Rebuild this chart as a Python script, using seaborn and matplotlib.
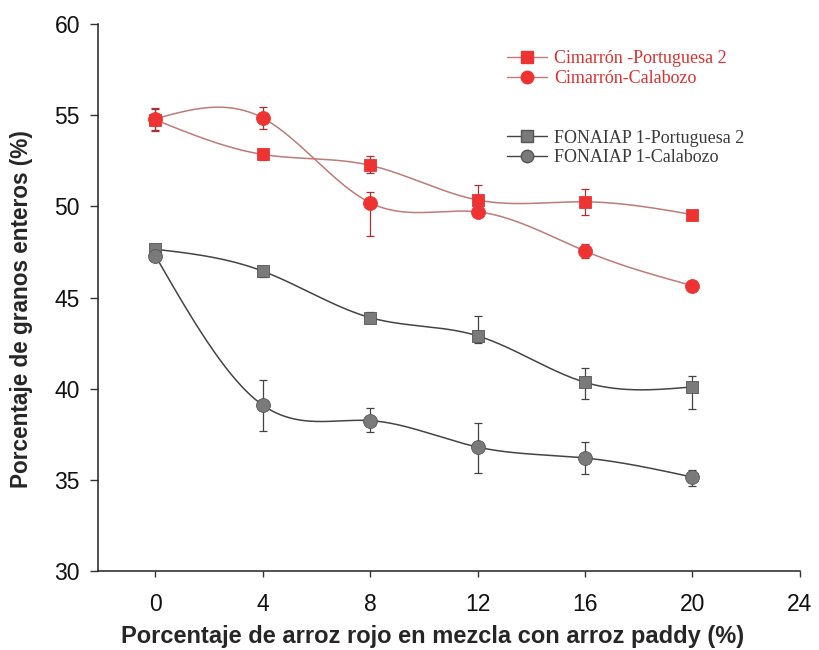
import numpy as np
import pandas as pd
import matplotlib
matplotlib.use("Agg")
import matplotlib.pyplot as plt
from matplotlib.lines import Line2D
import seaborn as sns

# ---- data ----
x_vals = [0, 4, 8, 12, 16, 20]
series_names = ["Cimarrón -Portuguesa 2", "Cimarrón-Calabozo",
                "FONAIAP 1-Portuguesa 2", "FONAIAP 1-Calabozo"]
cim_port = [54.75, 52.85, 52.25, 50.35, 50.25, 49.55]
cim_cal = [54.8, 54.85, 50.2, 49.7, 47.55, 45.65]
fon_port = [47.65, 46.45, 43.9, 42.9, 40.35, 40.1]
fon_cal = [47.3, 39.1, 38.25, 36.8, 36.2, 35.15]
cim_port_err_lo = [0.6, 0.3, 0.4, 0.6, 0.7, 0.1]
cim_port_err_hi = [0.6, 0.3, 0.5, 0.8, 0.7, 0.1]
cim_cal_err_lo = [0.6, 0.6, 1.8, 0.1, 0.4, 0.1]
cim_cal_err_hi = [0.6, 0.6, 0.6, 0.1, 0.4, 0.1]
fon_port_err_lo = [0.3, 0.3, 0.3, 0.4, 0.9, 1.2]
fon_port_err_hi = [0.3, 0.3, 0.3, 1.1, 0.8, 0.6]
fon_cal_err_lo = [0.3, 1.4, 0.6, 1.4, 0.9, 0.5]
fon_cal_err_hi = [0.3, 1.4, 0.7, 1.3, 0.9, 0.4]
x_ticks = [0, 4, 8, 12, 16, 20, 24]
y_ticks = [30, 35, 40, 45, 50, 55, 60]


def natural_spline(x, y, n=300):
    x = np.asarray(x, float); y = np.asarray(y, float)
    k = len(x); h = np.diff(x)
    A = np.zeros((k, k)); b = np.zeros(k)
    A[0, 0] = A[-1, -1] = 1
    for i in range(1, k - 1):
        A[i, i - 1] = h[i - 1]; A[i, i] = 2 * (h[i - 1] + h[i]); A[i, i + 1] = h[i]
        b[i] = 6 * ((y[i + 1] - y[i]) / h[i] - (y[i] - y[i - 1]) / h[i - 1])
    M = np.linalg.solve(A, b)
    xs = np.linspace(x[0], x[-1], n)
    idx = np.clip(np.searchsorted(x, xs) - 1, 0, k - 2)
    x0 = x[idx]; x1 = x[idx + 1]; hh = x1 - x0
    t1 = x1 - xs; t0 = xs - x0
    ys = (M[idx] * t1**3 + M[idx + 1] * t0**3) / (6 * hh) \
        + (y[idx] / hh - M[idx] * hh / 6) * t1 + (y[idx + 1] / hh - M[idx + 1] * hh / 6) * t0
    return xs, ys


sns.set_style("ticks")
plt.rcParams["font.family"] = ["Liberation Sans", "DejaVu Sans"]

fig = plt.figure(figsize=(8.19, 6.5), dpi=100)
ax = fig.add_axes([0.1197, 0.1215, 0.857, 0.8415])

RED = "#ee3333"
RED_LINE = "#c07a78"
GRAY = "#7a7a7a"
GRAY_EDGE = "#555555"
GRAY_LINE = "#444444"

specs = [
    (cim_port, cim_port_err_lo, cim_port_err_hi, "s", RED, RED, RED_LINE, "#b03030"),
    (cim_cal, cim_cal_err_lo, cim_cal_err_hi, "o", RED, RED, RED_LINE, "#b03030"),
    (fon_port, fon_port_err_lo, fon_port_err_hi, "s", GRAY, GRAY_EDGE, GRAY_LINE, "#444444"),
    (fon_cal, fon_cal_err_lo, fon_cal_err_hi, "o", GRAY, GRAY_EDGE, GRAY_LINE, "#444444"),
]

for name, (vals, lo, hi, mk, fc, ec, lc, errc) in zip(series_names, specs):
    xs, ys = natural_spline(x_vals, vals)
    sns.lineplot(x=xs, y=ys, ax=ax, color=lc, lw=1.1, zorder=2)
    ax.errorbar(x_vals, vals, yerr=[lo, hi], fmt="none", ecolor=errc,
                elinewidth=0.9, capsize=3, capthick=0.9, zorder=3)
    df = pd.DataFrame({"x": x_vals, "y": vals})
    sns.scatterplot(data=df, x="x", y="y", ax=ax, marker=mk, s=85 if mk == "s" else 100,
                    color=fc, edgecolor=ec, linewidth=0.6, zorder=4)

ax.set_xlim(-2.13, 24)
ax.set_ylim(30, 60)
ax.set_xticks(x_ticks)
ax.set_yticks(y_ticks)
ax.tick_params(axis="both", labelsize=16.5, width=1, color="#333333", labelcolor="#111111")
ax.tick_params(axis="x", length=4, pad=12)
ax.tick_params(axis="y", length=6, pad=7)
for s in ["top", "right"]:
    ax.spines[s].set_visible(False)
for s in ["left", "bottom"]:
    ax.spines[s].set_linewidth(1.1)
    ax.spines[s].set_color("#222222")
ax.set_xlabel("Porcentaje de arroz rojo en mezcla con arroz paddy (%)",
              fontsize=17, fontweight="bold")
ax.set_ylabel("Porcentaje de granos enteros (%)", fontsize=16.3, fontweight="bold")
ax.xaxis.set_label_coords(0.477, -0.099)
ax.yaxis.set_label_coords(-0.092, 0.479)

serif = {"family": "Liberation Serif", "size": 13}
h1 = [Line2D([], [], color=RED_LINE, lw=1, marker="s", markersize=8, markerfacecolor=RED, markeredgecolor=RED),
      Line2D([], [], color=RED_LINE, lw=1, marker="o", markersize=9, markerfacecolor=RED, markeredgecolor=RED)]
leg1 = ax.legend(h1, series_names[:2], loc="upper left", bbox_to_anchor=(0.565, 0.975),
                 frameon=False, prop=serif, handlelength=2.2, handletextpad=0.4,
                 labelspacing=0.15, borderaxespad=0.3)
for t in leg1.get_texts():
    t.set_color("#dd3030")
ax.add_artist(leg1)
h2 = [Line2D([], [], color=GRAY_LINE, lw=1, marker="s", markersize=8, markerfacecolor=GRAY, markeredgecolor=GRAY_EDGE),
      Line2D([], [], color=GRAY_LINE, lw=1, marker="o", markersize=9, markerfacecolor=GRAY, markeredgecolor=GRAY_EDGE)]
leg2 = ax.legend(h2, series_names[2:], loc="upper left", bbox_to_anchor=(0.565, 0.83),
                 frameon=False, prop=serif, handlelength=2.2, handletextpad=0.4,
                 labelspacing=0.15, borderaxespad=0.3)
for t in leg2.get_texts():
    t.set_color("#3a3a3a")

fig.savefig("out.png", dpi=100)
